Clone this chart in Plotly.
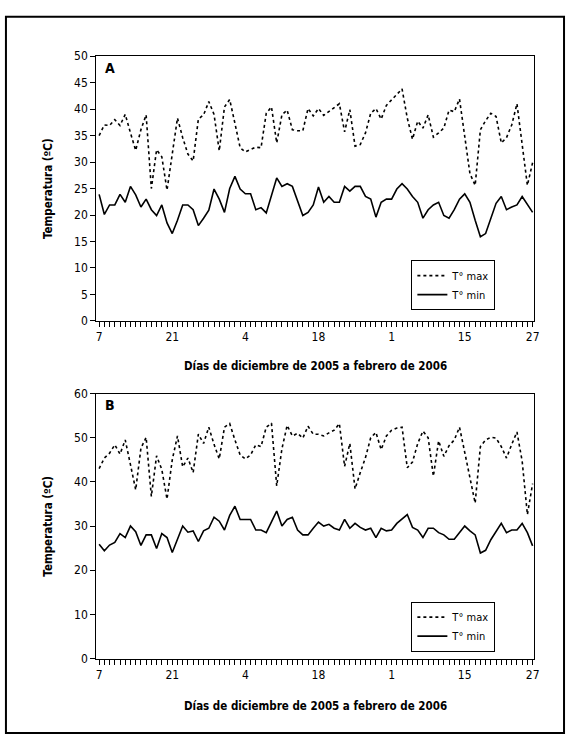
import plotly.graph_objects as go

W, H = 572, 744

# Day index 0..83 (7 Dec 2005 onward)
days = list(range(84))

tick_pos = [0, 14, 28, 42, 56, 70, 83]
tick_text = ["7", "21", "4", "18", "1", "15", "27"]

a_max = [35.0, 37.0, 36.9, 38.0, 36.9, 39.0, 35.5, 32.2, 36.1, 38.9, 25.0, 32.3, 31.0, 24.7, 31.5,
         38.3, 34.6, 31.5, 30.2, 38.1, 38.9, 41.4, 39.0,
         32.1, 40.4, 41.8, 37.3, 32.7, 31.9, 32.4, 32.8, 32.7, 39.2, 40.4, 33.6, 38.9, 39.8, 36.1,
         35.9, 35.9, 40.1, 38.7, 40.1,
         38.8, 39.5, 40.2, 41.0, 35.7, 39.9, 33.0, 33.3, 35.5, 39.2, 40.1, 38.1, 40.7, 41.7, 42.7,
         43.8, 38.3, 34.3, 37.7, 36.4, 38.9, 34.7, 35.5, 36.4, 39.8, 39.5, 41.9, 35.2, 27.8, 25.6,
         36.1, 37.8, 39.2, 38.6, 33.6, 34.6, 37.0, 41.0, 33.0, 25.6, 29.9]

a_min = [23.9, 20.1, 21.9, 21.9, 23.9, 22.4, 25.4, 23.8, 21.5, 23.0, 21.0, 19.9, 21.9, 18.5, 16.5,
         19.0, 21.9, 21.9, 21.0, 18.0, 19.4, 20.9, 24.9,
         23.0, 20.5, 25.0, 27.3, 24.9, 24.0, 24.0, 21.0, 21.4, 20.4, 23.9, 27.0, 25.4, 25.9, 25.4,
         22.5, 19.9, 20.5, 21.9, 25.3, 22.4, 23.5, 22.4, 22.4,
         25.4, 24.5, 25.4, 25.4, 23.5, 23.0, 19.6, 22.4, 23.0, 23.0, 24.9, 25.9, 24.9, 23.5, 22.4,
         19.4, 21.0, 21.9, 22.4, 19.9, 19.4, 21.0, 23.0, 24.0, 22.4, 19.0, 15.9, 16.5, 19.4, 22.2,
         23.5, 21.0, 21.5, 21.9, 23.5, 21.9, 20.5]

b_max = [43.0, 45.4, 46.5, 48.4, 46.3, 49.5, 43.9, 38.2, 47.6, 50.1, 36.7, 45.9, 42.8, 36.1, 45.0,
         50.4, 43.4, 45.4, 42.1, 50.8, 48.7, 52.4, 48.5,
         45.2, 52.4, 53.2, 49.5, 46.1, 45.2, 46.1, 48.4, 48.0, 52.4, 53.3, 39.1, 47.5, 52.8, 50.4,
         51.0, 49.9, 52.6, 50.8, 50.8, 50.4, 51.1, 51.7, 53.2,
         43.5, 48.7, 38.4, 42.1, 45.5, 50.0, 51.2, 47.3, 50.4, 51.7, 52.2, 52.4, 43.2, 44.5, 48.7,
         51.5, 50.0, 41.3, 49.3, 45.8, 48.2, 49.5, 52.4, 46.7, 40.6, 35.2, 48.0, 49.5, 50.1, 49.9,
         48.0, 45.4, 48.5, 51.3, 44.7, 32.6, 39.6]

b_min = [25.9, 24.4, 25.7, 26.3, 28.3, 27.4, 30.0, 28.7, 25.6, 28.0, 28.0, 24.9, 28.3, 27.4, 24.0,
         27.2, 30.0, 28.6, 28.9, 26.5, 28.9, 29.5, 32.0,
         31.1, 29.1, 32.4, 34.5, 31.5, 31.5, 31.5, 29.1, 29.1, 28.5, 30.9, 33.4, 30.0, 31.5, 32.0,
         29.1, 28.0, 28.0, 29.5, 30.9, 30.0, 30.4, 29.5, 29.1,
         31.5, 29.5, 30.6, 29.7, 29.1, 29.5, 27.4, 29.5, 28.9, 29.1, 30.6, 31.5, 32.6, 29.7, 29.1,
         27.4, 29.5, 29.5, 28.5, 28.0, 27.0, 27.0, 28.5, 30.0, 28.9, 28.0, 23.9, 24.5, 26.9, 28.7,
         30.6, 28.5, 29.1, 29.1, 30.6, 28.5, 25.5]

series_names = ["T° max", "T° min"]
x_title = "Días de diciembre de 2005 a febrero de 2006"
y_title = "Temperatura (ºC)"

FONT = "DejaVu Sans Condensed, Liberation Sans Narrow, sans-serif"


def px(x):
    return x / W


def py(y):
    return 1 - y / H


fig = go.Figure()

for data, name, dash in [(a_max, series_names[0], "dot"), (a_min, series_names[1], "solid")]:
    fig.add_trace(go.Scatter(x=days, y=data, mode="lines", name=name,
                             line=dict(color="black", width=1.6, dash=dash),
                             xaxis="x", yaxis="y", legend="legend"))
for data, name, dash in [(b_max, series_names[0], "dot"), (b_min, series_names[1], "solid")]:
    fig.add_trace(go.Scatter(x=days, y=data, mode="lines", name=name,
                             line=dict(color="black", width=1.6, dash=dash),
                             xaxis="x2", yaxis="y2", legend="legend2"))

xdom = [px(97), px(539)]
xcommon = dict(domain=xdom, range=[-0.57, 83.32], showline=True, linecolor="black", linewidth=1,
               mirror=True, ticks="outside", ticklen=5, tickcolor="black", tickwidth=1,
               tickmode="array", tickvals=tick_pos, ticktext=tick_text,
               showgrid=False, zeroline=False,
               tickfont=dict(family=FONT, size=12, color="black"),
               minor=dict(tickmode="linear", tick0=0, dtick=1, ticks="outside", ticklen=5,
                          tickcolor="black", tickwidth=1, showgrid=False))
ycommon = dict(showline=True, linecolor="black", linewidth=1, mirror=True,
               ticks="outside", ticklen=5, tickcolor="black", tickwidth=1,
               showgrid=False, zeroline=False,
               tickfont=dict(family=FONT, size=12, color="black"))

fig.update_layout(
    width=W, height=H,
    margin=dict(l=0, r=0, t=0, b=0),
    paper_bgcolor="white", plot_bgcolor="white",
    xaxis=dict(anchor="y", **xcommon),
    yaxis=dict(anchor="x", domain=[py(320), py(50)], range=[0, 50], dtick=5, **ycommon),
    xaxis2=dict(anchor="y2", **xcommon),
    yaxis2=dict(anchor="x2", domain=[py(664), py(394)], range=[0, 60], dtick=10, **ycommon),
    legend=dict(x=px(415), y=py(258), xanchor="left", yanchor="top",
                bordercolor="black", borderwidth=1, bgcolor="white",
                font=dict(family=FONT, size=11, color="black"), tracegroupgap=0),
    legend2=dict(x=px(415), y=py(606), xanchor="left", yanchor="top",
                 bordercolor="black", borderwidth=1, bgcolor="white",
                 font=dict(family=FONT, size=11, color="black"), tracegroupgap=0),
    showlegend=True,
)

ann_font = dict(family=FONT, size=11.5, color="black")
annotations = [
    dict(text="<b>A</b>", x=px(104), y=py(62), xref="paper", yref="paper",
         xanchor="left", yanchor="middle", showarrow=False, font=dict(family=FONT, size=14, color="black")),
    dict(text="<b>B</b>", x=px(104), y=py(406), xref="paper", yref="paper",
         xanchor="left", yanchor="middle", showarrow=False, font=dict(family=FONT, size=14, color="black")),
    dict(text="<b>" + x_title + "</b>", x=px(318), y=py(366), xref="paper", yref="paper",
         xanchor="center", yanchor="middle", showarrow=False, font=ann_font),
    dict(text="<b>" + x_title + "</b>", x=px(318), y=py(712), xref="paper", yref="paper",
         xanchor="center", yanchor="middle", showarrow=False, font=ann_font),
    dict(text="<b>" + y_title + "</b>", x=px(48), y=py(185), xref="paper", yref="paper",
         xanchor="center", yanchor="middle", textangle=-90, showarrow=False, font=ann_font),
    dict(text="<b>" + y_title + "</b>", x=px(48), y=py(529), xref="paper", yref="paper",
         xanchor="center", yanchor="middle", textangle=-90, showarrow=False, font=ann_font),
]
fig.update_layout(annotations=annotations)

fig.add_shape(type="rect", xref="paper", yref="paper",
              x0=px(6), x1=px(569), y0=py(740), y1=py(10),
              line=dict(color="black", width=2), fillcolor="rgba(0,0,0,0)", layer="above")

post = (
    "document.documentElement.style.margin='0px';"
    "document.documentElement.style.overflow='hidden';"
    "document.body.style.margin='0px';document.body.style.padding='0px';"
    "document.body.style.overflow='hidden';"
    "var d=document.getElementById('{plot_id}');"
    "d.style.position='fixed';d.style.top='0px';d.style.left='0px';"
)

fig.write_html("out.html", config={"displayModeBar": False}, post_script=post)
